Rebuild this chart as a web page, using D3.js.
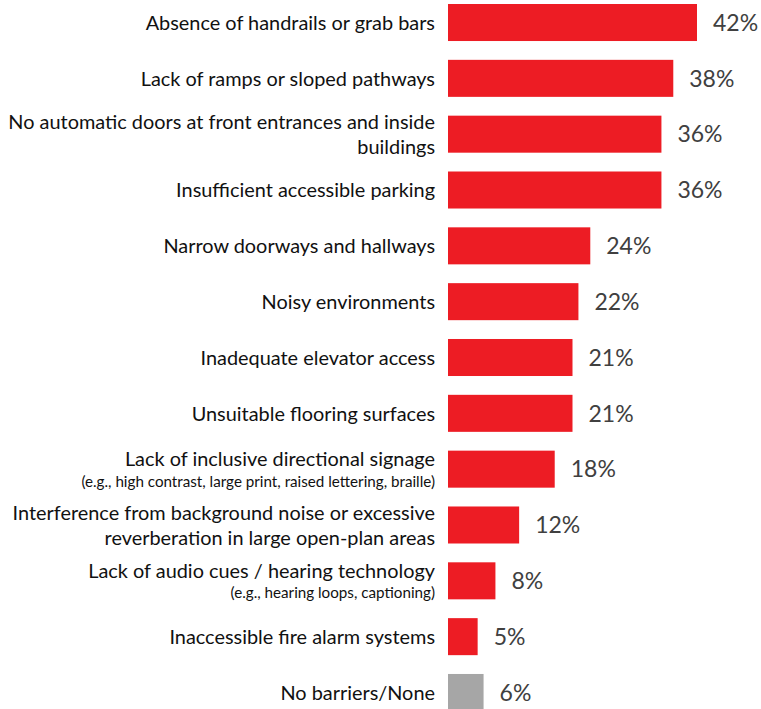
<!DOCTYPE html>
<html>
<head>
<meta charset="utf-8">
<script src="https://cdn.jsdelivr.net/npm/d3@7/dist/d3.min.js"></script>
<style>
  html, body { margin: 0; padding: 0; background: #fff; }
  svg { display: block; }
</style>
</head>
<body>
<svg id="chart" width="761" height="709"></svg>
<script>
// Barriers reported (share of respondents)
const categories = [
  ["Absence of handrails or grab bars"],
  ["Lack of ramps or sloped pathways"],
  ["No automatic doors at front entrances and inside", "buildings"],
  ["Insufficient accessible parking"],
  ["Narrow doorways and hallways"],
  ["Noisy environments"],
  ["Inadequate elevator access"],
  ["Unsuitable flooring surfaces"],
  ["Lack of inclusive directional signage"],
  ["Interference from background noise or excessive", "reverberation in large open-plan areas"],
  ["Lack of audio cues / hearing technology"],
  ["Inaccessible fire alarm systems"],
  ["No barriers/None"]
];
const notes = [
  "", "", "", "", "", "", "", "",
  "(e.g., high contrast, large print, raised lettering, braille)",
  "",
  "(e.g., hearing loops, captioning)",
  "", ""
];
const values = [42, 38, 36, 36, 24, 22, 21, 21, 18, 12, 8, 5, 6];
const isNone = [false, false, false, false, false, false, false, false, false, false, false, false, true];

const RED = "#ED1C24", GREY = "#A6A6A6";
const FONT = "Lato, 'Open Sans', sans-serif";

const svg = d3.select("#chart");
const ids = d3.range(values.length);

const x = d3.scaleLinear().domain([0, 42]).range([448, 697]);
const y = d3.scaleBand().domain(ids)
  .range([-5.4, 720.4]).paddingInner(0.337).paddingOuter(0.1685);

// bars
svg.append("g").selectAll("rect").data(ids).join("rect")
  .attr("x", x(0))
  .attr("y", i => y(i))
  .attr("width", i => x(values[i]) - x(0))
  .attr("height", y.bandwidth())
  .attr("fill", i => isNone[i] ? GREY : RED);

// value labels
svg.append("g").selectAll("text").data(ids).join("text")
  .attr("x", i => x(values[i]) + 16)
  .attr("y", i => y(i) + y.bandwidth() / 2)
  .attr("dy", "0.36em")
  .attr("font-family", FONT)
  .attr("font-size", 23)
  .attr("fill", "#404040")
  .text(i => values[i] + "%");

// category labels
const lab = svg.append("g").selectAll("g").data(ids).join("g")
  .attr("transform", i => `translate(435,${y(i) + y.bandwidth() / 2})`);

lab.each(function(i) {
  const g = d3.select(this);
  const lines = categories[i];
  const note = notes[i];
  let offsets;
  if (note) offsets = [-10];
  else if (lines.length === 2) offsets = [-12, 13];
  else offsets = [0];
  lines.forEach((t, k) => {
    g.append("text")
      .attr("x", 0).attr("y", offsets[k]).attr("dy", "0.36em")
      .attr("text-anchor", "end")
      .attr("font-family", FONT).attr("font-size", 19.9)
      .attr("fill", "#111").text(t);
  });
  if (note) {
    g.append("text")
      .attr("x", 0).attr("y", 12).attr("dy", "0.36em")
      .attr("text-anchor", "end")
      .attr("font-family", FONT).attr("font-size", 15.2)
      .attr("fill", "#111").text(note);
  }
});
</script>
</body>
</html>
